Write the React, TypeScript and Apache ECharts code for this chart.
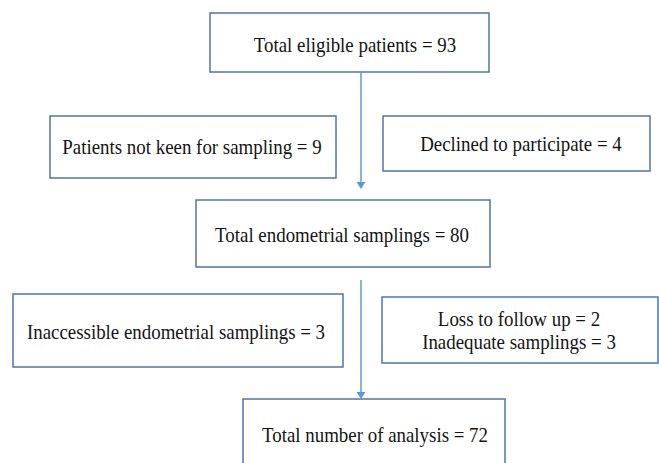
import React, { useEffect, useRef } from "react";
import * as echarts from "echarts";

// Main flow stages
const stageLabels = ["Total eligible patients", "Total endometrial samplings", "Total number of analysis"];
const stageCounts = [93, 80, 72];
// Exclusions after stage 1 (left, right)
const exclusion1Labels = ["Patients not keen for sampling", "Declined to participate"];
const exclusion1Counts = [9, 4];
// Exclusions after stage 2 (left, right lines)
const exclusion2LeftLabels = ["Inaccessible endometrial samplings"];
const exclusion2LeftCounts = [3];
const exclusion2RightLabels = ["Loss to follow up", "Inadequate samplings"];
const exclusion2RightCounts = [2, 3];

const BORDER = "#4f74ad";
const ARROW = "#5b9bd5";
const TEXT = "#141414";
const FONT = '21px "Liberation Serif", "Times New Roman", serif';
const SX = 0.9;

function box(x: number, y: number, w: number, h: number) {
  return {
    type: "rect",
    shape: { x, y, width: w, height: h },
    style: { fill: "#ffffff", stroke: BORDER, lineWidth: 1.5 },
  };
}

function label(text: string, x: number, y: number) {
  return {
    type: "text",
    x,
    y,
    scaleX: SX,
    style: { text, font: FONT, fill: TEXT, align: "center", verticalAlign: "middle" },
  };
}

function arrow(x: number, y1: number, y2: number) {
  return [
    {
      type: "line",
      shape: { x1: x, y1, x2: x, y2: y2 - 6 },
      style: { stroke: ARROW, lineWidth: 1.5 },
    },
    {
      type: "polygon",
      shape: { points: [[x - 4.5, y2 - 7], [x + 4.5, y2 - 7], [x, y2]] },
      style: { fill: ARROW },
    },
  ];
}

const fmt = (l: string, n: number) => `${l} = ${n}`;

export default function App() {
  const ref = useRef<HTMLDivElement>(null);
  useEffect(() => {
    document.body.style.margin = "0";
    const chart = echarts.init(ref.current!, null, { renderer: "svg" });
    const elements: any[] = [
      ...arrow(361, 73, 189),
      ...arrow(361, 280, 399),
      box(210, 13, 279, 59),
      label(fmt(stageLabels[0], stageCounts[0]), 355, 45),
      box(50, 116, 286, 62),
      label(fmt(exclusion1Labels[0], exclusion1Counts[0]), 192, 147),
      box(383, 116, 267, 55),
      label(fmt(exclusion1Labels[1], exclusion1Counts[1]), 521, 144),
      box(196, 200, 294, 67),
      label(fmt(stageLabels[1], stageCounts[1]), 342, 235),
      box(13, 294, 330, 73),
      label(fmt(exclusion2LeftLabels[0], exclusion2LeftCounts[0]), 176, 332),
      box(382, 297, 276, 66),
      label(fmt(exclusion2RightLabels[0], exclusion2RightCounts[0]), 519, 319),
      label(fmt(exclusion2RightLabels[1], exclusion2RightCounts[1]), 519, 342),
      box(243, 399, 262, 90),
      label(fmt(stageLabels[2], stageCounts[2]), 375, 435),
    ];
    chart.setOption({
      animation: false,
      backgroundColor: "#ffffff",
      graphic: { elements },
    });
    return () => chart.dispose();
  }, []);
  return <div ref={ref} style={{ width: 659, height: 463 }} />;
}
